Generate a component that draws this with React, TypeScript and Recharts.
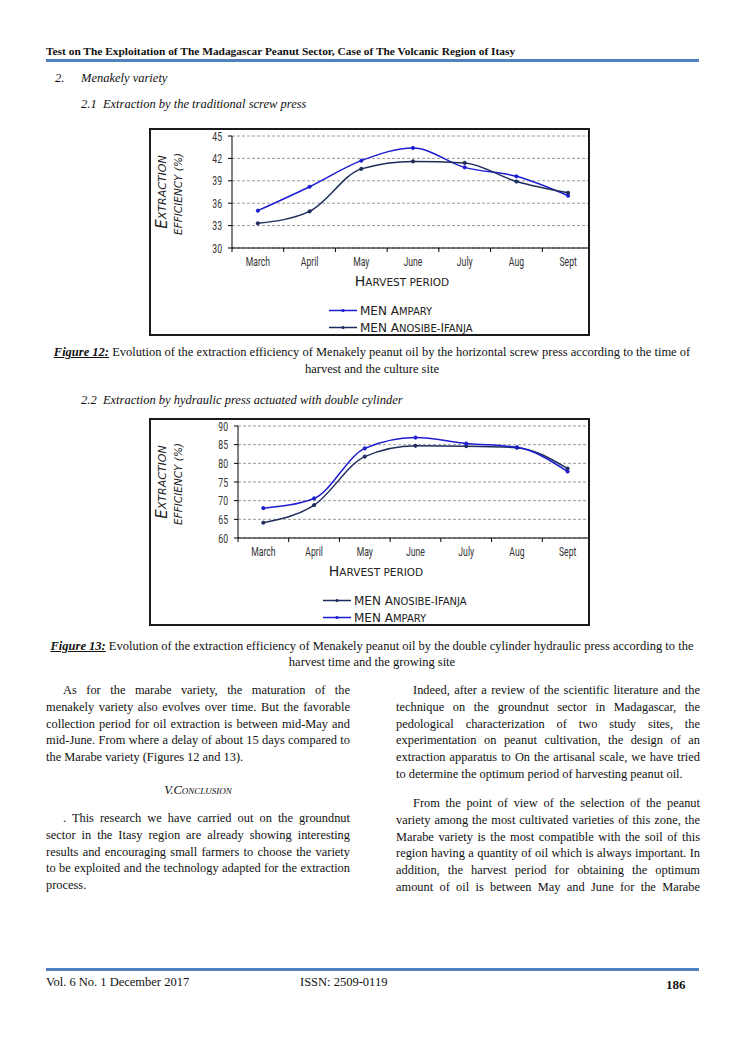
import React from 'react';
import { LineChart, Line, XAxis, YAxis, CartesianGrid, Legend } from 'recharts';

const months = ['March', 'April', 'May', 'June', 'July', 'Aug', 'Sept'];

// Figure 12 - traditional screw press
const screwAmpary = [35.0, 38.2, 41.7, 43.4, 40.8, 39.6, 37.0];
const screwAnosibe = [33.3, 34.9, 40.6, 41.6, 41.4, 38.9, 37.4];
const screwTicks = [30, 33, 36, 39, 42, 45];

// Figure 13 - double cylinder hydraulic press
const hydAnosibe = [64.1, 68.8, 81.8, 84.7, 84.6, 84.2, 78.6];
const hydAmpary = [68.0, 70.6, 84.0, 86.9, 85.3, 84.3, 77.8];
const hydTicks = [60, 65, 70, 75, 80, 85, 90];

const BLUE = '#1d1dd2';
const NAVY = '#1f2d5c';
const NARROW = "Roboto, 'DejaVu Sans', sans-serif";
const CAPS = "'DejaVu Sans', sans-serif";

type Series = { key: string; name: string; color: string; values: number[] };

// condensed-looking tick text (the source uses a narrow display font)
const NarrowText = ({ x, y, anchor, children }: any) => (
  <text
    transform={`translate(${x}, ${y}) scale(0.72, 1)`}
    textAnchor={anchor}
    fontFamily={NARROW}
    fontSize={12}
    fill="#333"
  >
    {children}
  </text>
);

const MonthTick = (props: any) => {
  const { x, y, payload, index, band } = props;
  const axisY = y - 4;
  return (
    <g>
      <line x1={x - band / 2} x2={x - band / 2} y1={axisY} y2={axisY + 4} stroke="#000" />
      {index === months.length - 1 && (
        <line x1={x + band / 2} x2={x + band / 2} y1={axisY} y2={axisY + 4} stroke="#000" />
      )}
      <NarrowText x={x} y={axisY + 18} anchor="middle">
        {payload.value}
      </NarrowText>
    </g>
  );
};

const ValueTick = (props: any) => {
  const { x, y, payload } = props;
  return (
    <NarrowText x={x} y={y + 4.5} anchor="end">
      {payload.value}
    </NarrowText>
  );
};

// small caps rendering: capitals big, lowercase as small capitals
const CapsText = ({ text, big, small }: { text: string; big: number; small: number }) => {
  const parts: React.ReactNode[] = [];
  let buf = '';
  let bufUpper: boolean | null = null;
  const flush = (k: number) => {
    if (!buf) return;
    parts.push(
      <tspan key={k} fontSize={bufUpper ? big : small}>
        {bufUpper ? buf : buf.toUpperCase()}
      </tspan>
    );
    buf = '';
  };
  text.split('').forEach((ch, i) => {
    const up = ch !== ch.toLowerCase();
    const isUp = /[a-z]/.test(ch) ? false : up ? true : bufUpper ?? false;
    if (bufUpper !== null && isUp !== bufUpper) flush(i);
    bufUpper = isUp;
    buf += ch;
  });
  flush(999);
  return <>{parts}</>;
};

function EffChart(props: {
  series: Series[];
  ticks: number[];
  yWidth: number;
  right: number;
  titleX: number;
  legendX: number;
}) {
  const { series, ticks, yWidth, right, titleX, legendX } = props;
  const width = 446;
  const band = (width - yWidth - right) / 7;
  const data = months.map((m, i) => {
    const row: any = { month: m };
    series.forEach((s) => (row[s.key] = s.values[i]));
    return row;
  });

  const renderYTitle = (p: any) => {
    const vb = p.viewBox;
    const cy = vb.y + vb.height / 2;
    return (
      <g fontFamily={CAPS} fontStyle="italic" fill="#222">
        <text x={11} y={cy} textAnchor="middle" dominantBaseline="central" transform={`rotate(-90, 11, ${cy})`}>
          <CapsText text="Extraction" big={15} small={11} />
        </text>
        <text x={27} y={cy + 2} textAnchor="middle" dominantBaseline="central" transform={`rotate(-90, 27, ${cy + 2})`}>
          <CapsText text="efficiency (%)" big={12} small={10.5} />
        </text>
      </g>
    );
  };

  const renderXTitle = (p: any) => {
    const vb = p.viewBox;
    return (
      <text x={titleX} y={vb.y + 38} textAnchor="middle" fontFamily={CAPS} fill="#222">
        <CapsText text="Harvest period" big={14} small={10.5} />
      </text>
    );
  };

  // legend follows the series order (Recharts would sort by name)
  const renderLegend = () => (
    <div style={{ height: 42, paddingTop: 10, boxSizing: 'border-box', position: 'relative' }}>
      {series.map((s) => (
        <div key={s.key} style={{ height: 17, position: 'relative' }}>
          <svg width={260} height={17} style={{ position: 'absolute', left: legendX, top: 0 }}>
            <line x1={0} x2={28} y1={8.5} y2={8.5} stroke={s.color} strokeWidth={1.5} />
            <circle cx={14} cy={8.5} r={1.6} fill={s.color} />
            <text x={31} y={13} fontFamily={CAPS} fill="#222">
              <CapsText text={s.name} big={12} small={10} />
            </text>
          </svg>
        </div>
      ))}
    </div>
  );

  return (
    <LineChart width={width} height={204} data={data} margin={{ top: 6, right, bottom: 0, left: 0 }}>
      <CartesianGrid vertical={false} stroke="#9a9a9a" strokeDasharray="3 2" />
      <XAxis
        dataKey="month"
        interval={0}
        padding={{ left: band / 2, right: band / 2 }}
        axisLine={{ stroke: '#000' }}
        tickLine={false}
        tickSize={4}
        tickMargin={0}
        height={44}
        tick={<MonthTick band={band} />}
        label={{ content: renderXTitle }}
      />
      <YAxis
        domain={[ticks[0], ticks[ticks.length - 1]]}
        ticks={ticks}
        interval={0}
        width={yWidth}
        axisLine={{ stroke: '#000' }}
        tickLine={{ stroke: '#000' }}
        tickSize={4}
        tickMargin={6}
        tick={<ValueTick />}
        label={{ content: renderYTitle }}
      />
      <Legend verticalAlign="bottom" content={renderLegend} wrapperStyle={{ left: 0, width, bottom: 0 }} />
      {series.map((s) => (
        <Line
          key={s.key}
          type="monotone"
          dataKey={s.key}
          name={s.name}
          stroke={s.color}
          strokeWidth={1.5}
          dot={{ r: 1.6, fill: s.color, stroke: s.color, strokeWidth: 1 }}
          isAnimationActive={false}
        />
      ))}
    </LineChart>
  );
}

const leftPara1 = [
  'As for the marabe variety, the maturation of the',
  'menakely variety also evolves over time. But the favorable',
  'collection period for oil extraction is between mid-May and',
  'mid-June. From where a delay of about 15 days compared to',
  'the Marabe variety (Figures 12 and 13).',
];
const leftPara2 = [
  '. This research we have carried out on the groundnut',
  'sector in the Itasy region are already showing interesting',
  'results and encouraging small farmers to choose the variety',
  'to be exploited and the technology adapted for the extraction',
  'process.',
];
const rightPara1 = [
  'Indeed, after a review of the scientific literature and the',
  'technique on the groundnut sector in Madagascar, the',
  'pedological characterization of two study sites, the',
  'experimentation on peanut cultivation, the design of an',
  'extraction apparatus to On the artisanal scale, we have tried',
  'to determine the optimum period of harvesting peanut oil.',
];
const rightPara2 = [
  'From the point of view of the selection of the peanut',
  'variety among the most cultivated varieties of this zone, the',
  'Marabe variety is the most compatible with the soil of this',
  'region having a quantity of oil which is always important. In',
  'addition, the harvest period for obtaining the optimum',
  'amount of oil is between May and June for the Marabe',
];

function Para({ lines, x, top, lastJustify }: { lines: string[]; x: number; top: number; lastJustify?: boolean }) {
  return (
    <>
      {lines.map((l, i) => {
        const last = i === lines.length - 1 && !lastJustify;
        const indent = i === 0 ? 17 : 0;
        return (
          <div
            key={i}
            style={{
              position: 'absolute',
              left: x + indent,
              top: top + i * 16.8 - 8,
              width: 304 - indent,
              height: 16,
              lineHeight: '16px',
              fontSize: 12.4,
              textAlign: last ? 'left' : 'justify',
              textAlignLast: last ? 'left' : 'justify',
              whiteSpace: 'nowrap',
            }}
          >
            {l}
          </div>
        );
      })}
    </>
  );
}

const abs = (left: number, cy: number, extra: React.CSSProperties = {}): React.CSSProperties => ({
  position: 'absolute',
  left,
  top: cy - 8,
  height: 16,
  lineHeight: '16px',
  whiteSpace: 'nowrap',
  ...extra,
});

export default function App() {
  const frame: React.CSSProperties = {
    position: 'absolute',
    left: 149,
    width: 441,
    height: 208,
    border: '2px solid #1a1a1a',
    boxSizing: 'border-box',
    overflow: 'hidden',
    background: '#fff',
  };
  return (
    <div
      style={{
        position: 'absolute',
        left: 0,
        top: 0,
        width: 744,
        height: 1053,
        background: '#fff',
        fontFamily: "'Liberation Serif', 'Times New Roman', serif",
        color: '#111',
        overflow: 'hidden',
      }}
    >
      <div style={abs(46, 51, { fontSize: 11.4, fontWeight: 'bold' })}>
        Test on The Exploitation of The Madagascar Peanut Sector, Case of The Volcanic Region of Itasy
      </div>
      <div style={{ position: 'absolute', left: 46, top: 59, width: 653, height: 3, background: '#5281c0' }} />

      <div style={abs(55, 78, { fontSize: 12.5, fontStyle: 'italic' })}>2.</div>
      <div style={abs(81, 78, { fontSize: 12.5, fontStyle: 'italic' })}>Menakely variety</div>
      <div style={abs(81, 104, { fontSize: 12.5, fontStyle: 'italic' })}>2.1&nbsp;&nbsp;Extraction by the traditional screw press</div>

      <div style={{ ...frame, top: 128 }}>
        <EffChart
          series={[
            { key: 'ampary', name: 'MEN Ampary', color: BLUE, values: screwAmpary },
            { key: 'anosibe', name: 'MEN Anosibe-Ifanja', color: NAVY, values: screwAnosibe },
          ]}
          ticks={screwTicks}
          yWidth={81}
          right={3}
          titleX={251}
          legendX={178}
        />
      </div>

      <div style={abs(0, 352, { width: 744, textAlign: 'center', fontSize: 12.5 })}>
        <b style={{ fontStyle: 'italic', textDecoration: 'underline' }}>Figure 12:</b> Evolution of the extraction efficiency of
        Menakely peanut oil by the horizontal screw press according to the time of
      </div>
      <div style={abs(0, 369, { width: 744, textAlign: 'center', fontSize: 12.5 })}>harvest and the culture site</div>

      <div style={abs(81, 400, { fontSize: 12.5, fontStyle: 'italic' })}>
        2.2&nbsp;&nbsp;Extraction by hydraulic press actuated with double cylinder
      </div>

      <div style={{ ...frame, top: 418 }}>
        <EffChart
          series={[
            { key: 'anosibe', name: 'MEN Anosibe-Ifanja', color: NAVY, values: hydAnosibe },
            { key: 'ampary', name: 'MEN Ampary', color: BLUE, values: hydAmpary },
          ]}
          ticks={hydTicks}
          yWidth={87}
          right={4}
          titleX={225}
          legendX={172}
        />
      </div>

      <div style={abs(0, 646, { width: 744, textAlign: 'center', fontSize: 12.5 })}>
        <b style={{ fontStyle: 'italic', textDecoration: 'underline' }}>Figure 13:</b> Evolution of the extraction efficiency of
        Menakely peanut oil by the double cylinder hydraulic press according to the
      </div>
      <div style={abs(0, 662, { width: 744, textAlign: 'center', fontSize: 12.5 })}>harvest time and the growing site</div>

      <Para lines={leftPara1} x={46} top={690} />
      <div style={abs(46, 790, { width: 304, textAlign: 'center', fontSize: 12.5, fontStyle: 'italic', fontVariant: 'small-caps' })}>
        V.Conclusion
      </div>
      <Para lines={leftPara2} x={46} top={818} />
      <Para lines={rightPara1} x={396} top={690} />
      <Para lines={rightPara2} x={396} top={803} lastJustify />

      <div style={{ position: 'absolute', left: 46, top: 968, width: 653, height: 3, background: '#5281c0' }} />
      <div style={abs(46, 982, { fontSize: 12.5 })}>Vol. 6 No. 1 December 2017</div>
      <div style={abs(300, 982, { fontSize: 12.5 })}>ISSN: 2509-0119</div>
      <div style={abs(666, 985, { fontSize: 13, fontWeight: 'bold' })}>186</div>
    </div>
  );
}
